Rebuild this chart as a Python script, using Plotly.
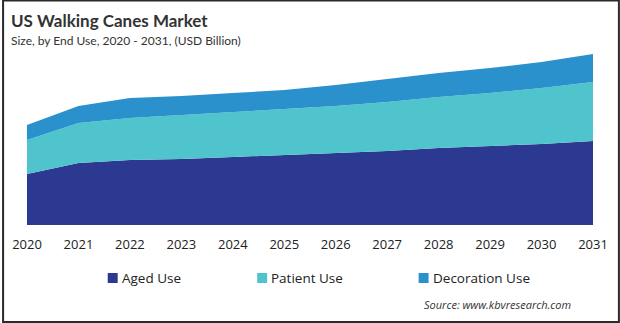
import plotly.graph_objects as go

years = [2020, 2021, 2022, 2023, 2024, 2025, 2026, 2027, 2028, 2029, 2030, 2031]
aged_use = [0.51, 0.62, 0.65, 0.66, 0.68, 0.70, 0.72, 0.74, 0.77, 0.79, 0.81, 0.84]
patient_use = [0.34, 0.40, 0.42, 0.44, 0.45, 0.46, 0.47, 0.49, 0.51, 0.53, 0.56, 0.59]
decoration_use = [0.15, 0.17, 0.20, 0.19, 0.19, 0.19, 0.21, 0.23, 0.24, 0.25, 0.26, 0.28]
series_names = ["Aged Use", "Patient Use", "Decoration Use"]
colors = ["#2B3990", "#4FC4CC", "#2A91CD"]

W, H = 620, 323
L, R, T, B = 25, 27, 25, 98

fig = go.Figure()
for name, vals, c in zip(series_names, [aged_use, patient_use, decoration_use], colors):
    fig.add_trace(go.Scatter(
        x=years, y=vals, name=name, mode="lines", stackgroup="one",
        line=dict(width=0, color=c), fillcolor=c,
    ))

pw = W - L - R
ph = H - T - B

def px_x(p):
    return (p - L) / pw

def px_y(p):
    return (H - B - p) / ph

fig.update_layout(
    width=W, height=H,
    margin=dict(l=L, r=R, t=T, b=B),
    paper_bgcolor="white", plot_bgcolor="white",
    showlegend=False,
    font=dict(family="Open Sans, sans-serif", color="#222"),
    xaxis=dict(range=[2020, 2031], tickmode="array", tickvals=years,
               ticktext=[str(y) for y in years], showgrid=False, zeroline=False,
               showline=False, ticks="", tickfont=dict(size=13, color="#222"),
               ticklabelstandoff=10, fixedrange=True),
    yaxis=dict(range=[0, 2.0], visible=False, fixedrange=True),
)

# title texts
fig.add_annotation(x=px_x(7), y=px_y(20), xref="paper", yref="paper",
                   text="<b>US Walking Canes Market</b>", showarrow=False,
                   xanchor="left", yanchor="middle",
                   font=dict(size=17, color="#333", family="Lato, sans-serif"))
fig.add_annotation(x=px_x(7), y=px_y(41), xref="paper", yref="paper",
                   text="Size, by End Use, 2020 - 2031, (USD Billion)", showarrow=False,
                   xanchor="left", yanchor="middle",
                   font=dict(size=12, color="#333", family="Lato, sans-serif"))

# legend
leg_x = [110, 260, 422]
for lx, name, c in zip(leg_x, series_names, colors):
    fig.add_shape(type="rect", xref="paper", yref="paper",
                  x0=px_x(lx - 4), x1=px_x(lx + 6), y0=px_y(283), y1=px_y(273),
                  fillcolor=c, line=dict(width=0))
    fig.add_annotation(x=px_x(lx + 8), y=px_y(278), xref="paper", yref="paper",
                       text=name, showarrow=False, xanchor="left", yanchor="middle",
                       font=dict(size=13.5, color="#222"))

fig.add_annotation(x=px_x(573), y=px_y(304), xref="paper", yref="paper",
                   text="<i>Source: www.kbvresearch.com</i>", showarrow=False,
                   xanchor="right", yanchor="middle",
                   font=dict(size=11, color="#333"))

# frame
fig.add_shape(type="rect", xref="paper", yref="paper",
              x0=px_x(1), x1=px_x(619), y0=px_y(322), y1=px_y(0.5),
              line=dict(color="#2a2a2a", width=2), fillcolor="rgba(0,0,0,0)")

fig.write_html("out.html")
